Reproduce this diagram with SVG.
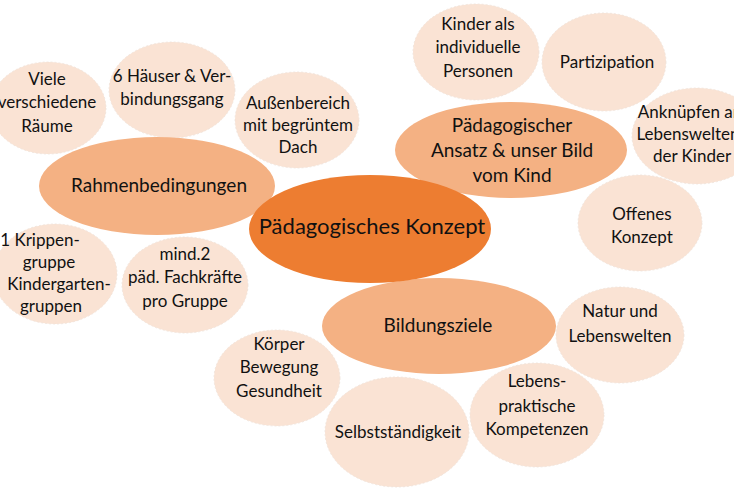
<svg xmlns="http://www.w3.org/2000/svg" width="734" height="489" viewBox="0 0 734 489">
<style>
text{font-family:Lato,"Liberation Sans",sans-serif;fill:#111;text-anchor:middle}
.s{font-size:17px}
.m{font-size:19px}
.c{font-size:22px}
.light{fill:#FAE3D4;stroke:#EFE2D9;stroke-width:0.8;stroke-dasharray:2 2}
.mid{fill:#F4B183}
.dark{fill:#ED7D31}
</style>
<rect width="734" height="489" fill="#fff"/>
<g id="connectors"/>
<g id="viele"><ellipse class="light" cx="48" cy="108" rx="58" ry="46"/>
<text class="s" x="47" y="85">Viele</text><text class="s" x="47" y="108">verschiedene</text><text class="s" x="47" y="132">Räume</text></g>
<g id="haeuser"><ellipse class="light" cx="172" cy="90" rx="63" ry="48"/>
<text class="s" x="172" y="82">6 Häuser &amp; Ver-</text><text class="s" x="172" y="105">bindungsgang</text></g>
<g id="aussen"><ellipse class="light" cx="297" cy="120" rx="62" ry="48"/>
<text class="s" x="298" y="109">Außenbereich</text><text class="s" x="298" y="131">mit begrüntem</text><text class="s" x="298" y="153">Dach</text></g>
<g id="kinder"><ellipse class="light" cx="476" cy="52" rx="63" ry="48"/>
<text class="s" x="478" y="30">Kinder als</text><text class="s" x="478" y="53">individuelle</text><text class="s" x="478" y="77">Personen</text></g>
<g id="partizipation"><ellipse class="light" cx="604" cy="62" rx="62" ry="49"/>
<text class="s" x="607" y="68">Partizipation</text></g>
<g id="anknuepfen"><ellipse class="light" cx="697" cy="136" rx="65" ry="48"/>
<text class="s" x="690" y="118">Anknüpfen an</text><text class="s" x="688" y="140">Lebenswelten</text><text class="s" x="692" y="162">der Kinder</text></g>
<g id="offenes"><ellipse class="light" cx="640" cy="223" rx="62" ry="48"/>
<text class="s" x="642" y="220">Offenes</text><text class="s" x="642" y="243">Konzept</text></g>
<g id="krippe"><ellipse class="light" cx="55" cy="274" rx="62" ry="50"/>
<text class="s" x="40" y="246">1 Krippen-</text><text class="s" x="49" y="268">gruppe</text><text class="s" x="59" y="290">Kindergarten-</text><text class="s" x="51" y="312">gruppen</text></g>
<g id="fachkraefte"><ellipse class="light" cx="185" cy="285" rx="63" ry="48"/>
<text class="s" x="185" y="260">mind.2</text><text class="s" x="185" y="283">päd. Fachkräfte</text><text class="s" x="185" y="307">pro Gruppe</text></g>
<g id="natur"><ellipse class="light" cx="620" cy="335" rx="64" ry="48"/>
<text class="s" x="620" y="317">Natur und</text><text class="s" x="620" y="342">Lebenswelten</text></g>
<g id="koerper"><ellipse class="light" cx="277" cy="378" rx="63" ry="48"/>
<text class="s" x="279" y="350">Körper</text><text class="s" x="279" y="373">Bewegung</text><text class="s" x="279" y="397">Gesundheit</text></g>
<g id="selbst"><ellipse class="light" cx="397" cy="432" rx="72" ry="55"/>
<text class="s" x="398" y="438">Selbstständigkeit</text></g>
<g id="lebensprakt"><ellipse class="light" cx="537" cy="415" rx="67" ry="52"/>
<text class="s" x="537" y="387">Lebens-</text><text class="s" x="537" y="412">praktische</text><text class="s" x="537" y="435">Kompetenzen</text></g>
<g id="rahmen"><ellipse class="mid" cx="157" cy="186" rx="118" ry="49"/>
<text class="m" x="159" y="192">Rahmenbedingungen</text></g>
<g id="ansatz"><ellipse class="mid" cx="511" cy="150" rx="116" ry="48"/>
<text class="m" x="512" y="132">Pädagogischer</text><text class="m" x="512" y="157">Ansatz &amp; unser Bild</text><text class="m" x="512" y="182">vom Kind</text></g>
<g id="bildung"><ellipse class="mid" cx="439" cy="326" rx="117" ry="48"/>
<text class="m" x="438" y="332">Bildungsziele</text></g>
<g id="zentrum"><ellipse class="dark" cx="370" cy="229" rx="121" ry="54"/>
<text class="c" x="372" y="234">Pädagogisches Konzept</text></g>
</svg>
